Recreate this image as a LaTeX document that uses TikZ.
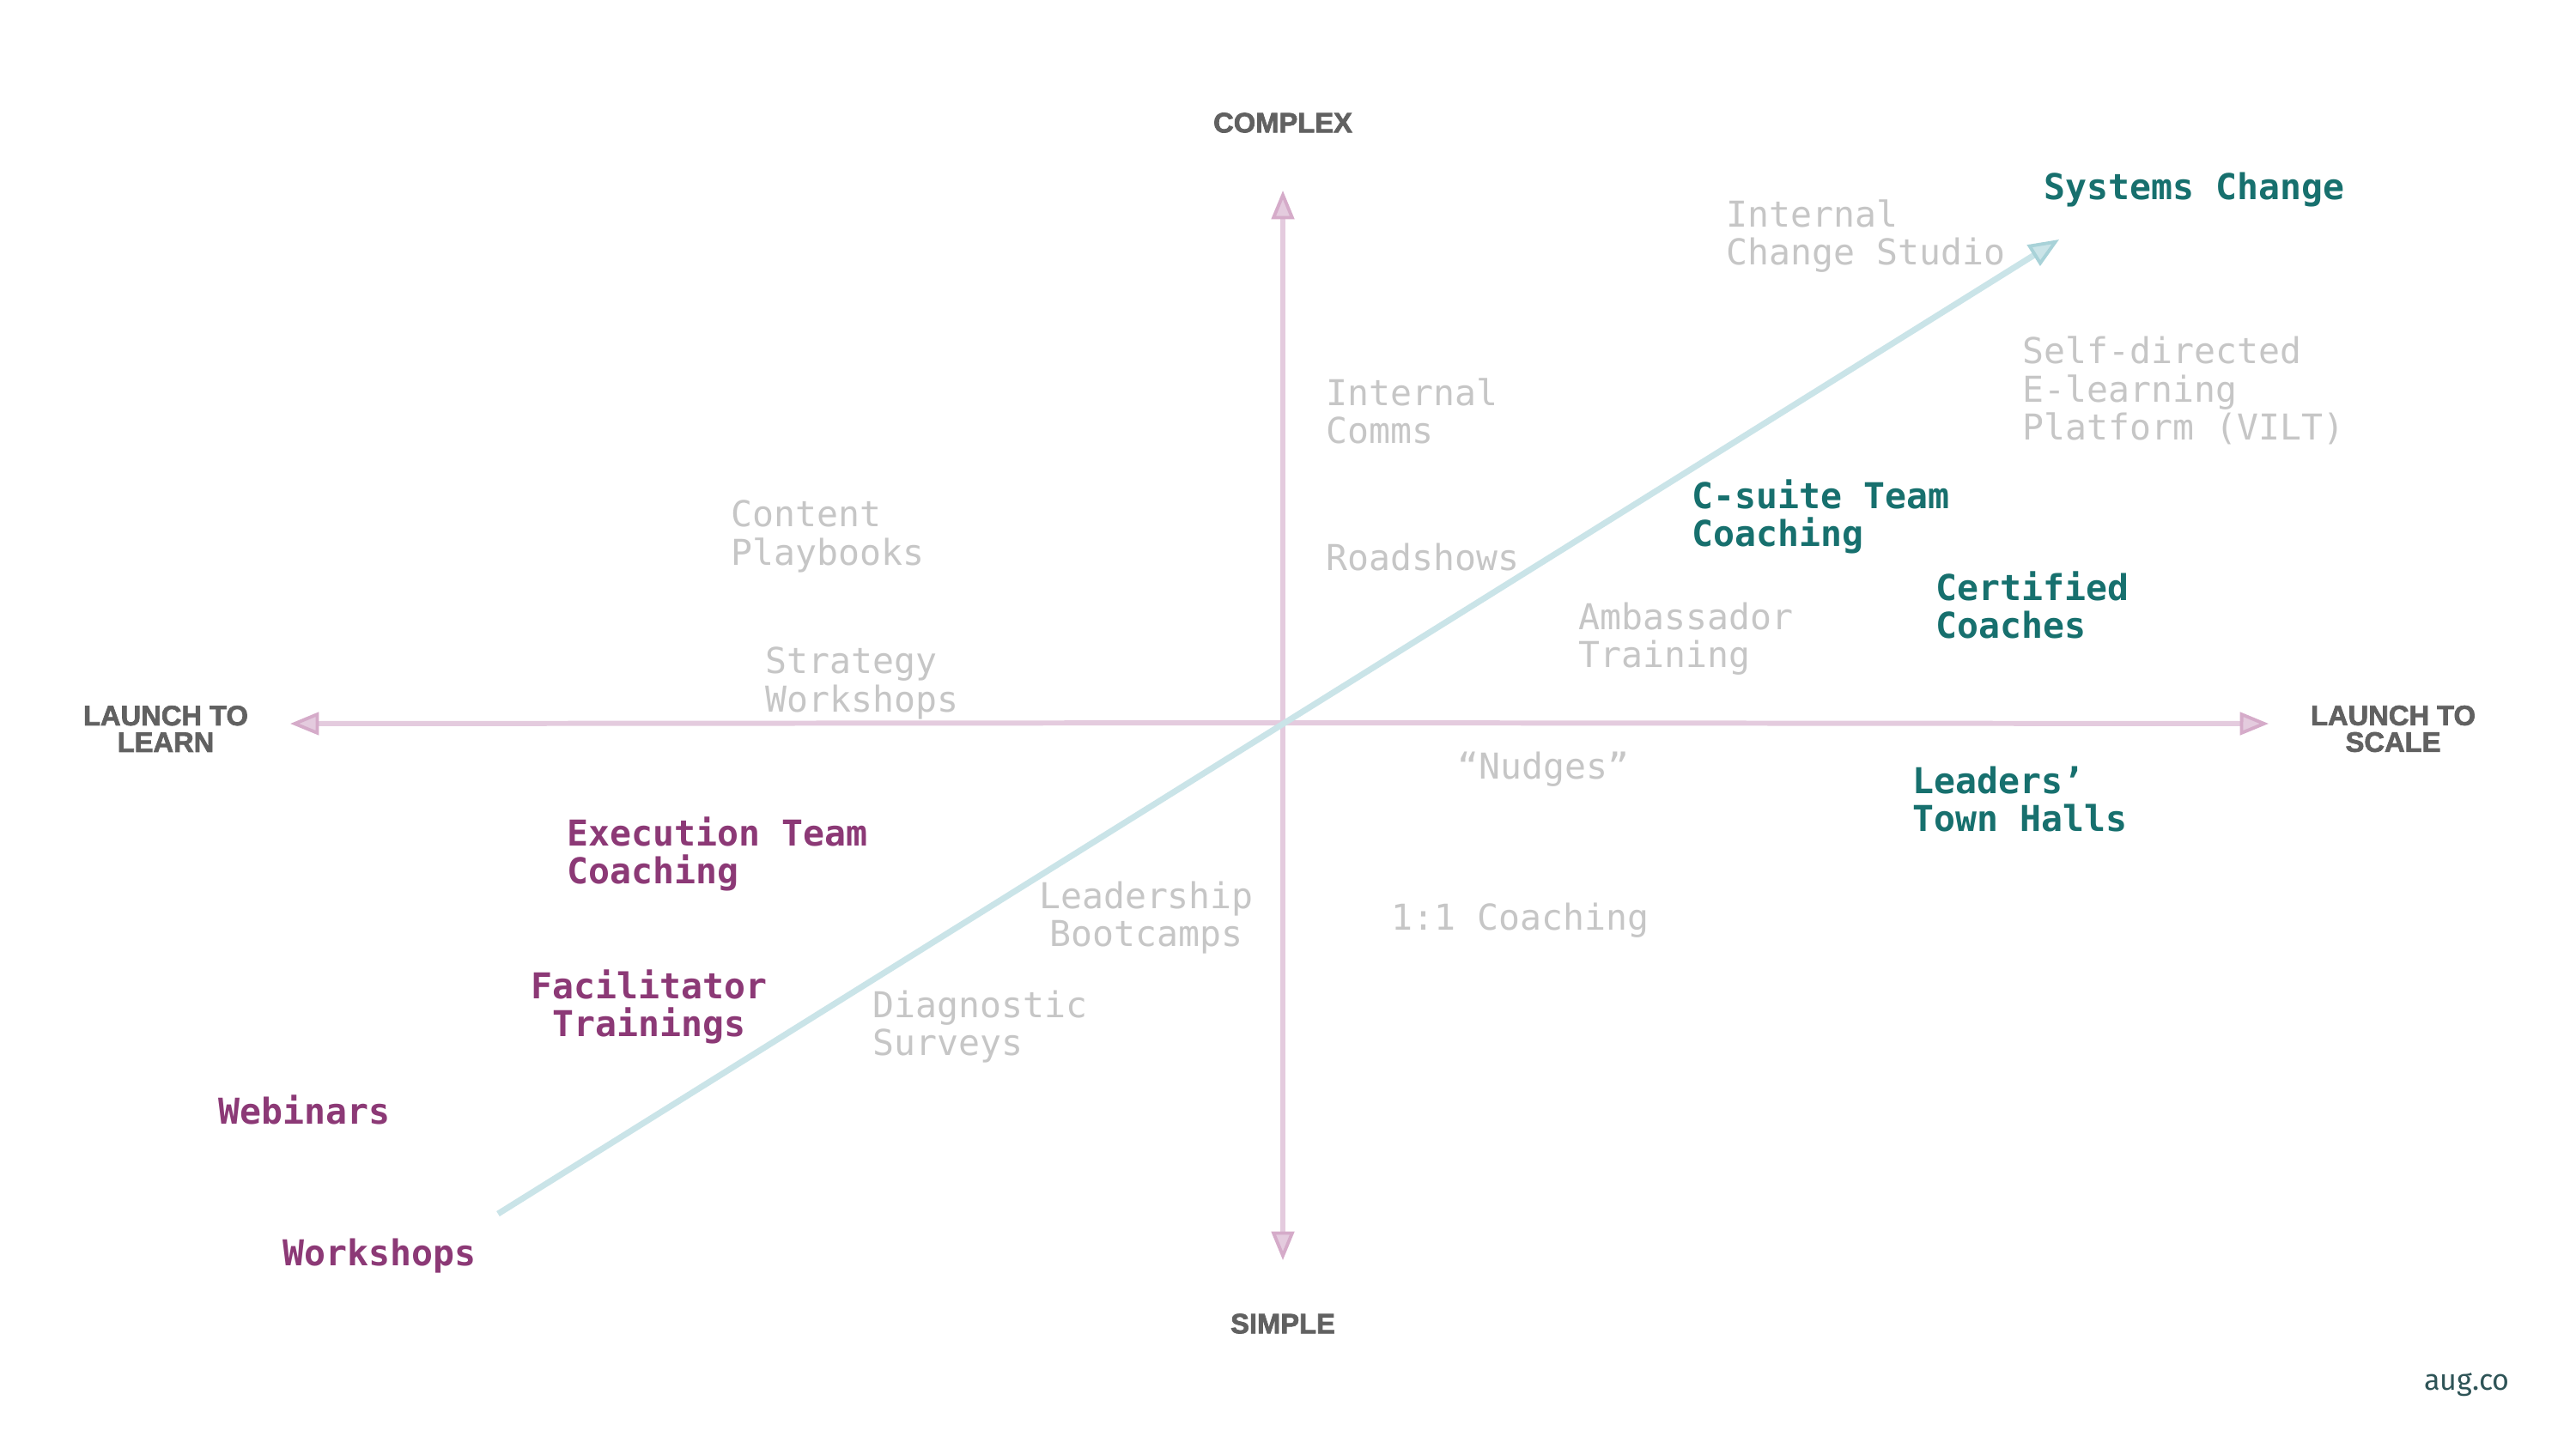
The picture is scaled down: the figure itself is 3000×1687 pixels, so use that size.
\documentclass[tikz,border=0pt]{standalone}
\usepackage{fontspec}
\setmainfont{Liberation Sans}
\newfontfamily\monof{DejaVu Sans Mono}
\newfontfamily\headf[FakeBold=2.2]{Liberation Sans Bold}
\newfontfamily\brandf{Fira Sans}
\usetikzlibrary{arrows.meta}
\definecolor{axisc}{HTML}{E4CBDE}
\definecolor{axisd}{HTML}{D5ABC9}
\definecolor{diagc}{HTML}{CAE4E8}
\definecolor{diagd}{HTML}{A8D2D8}
\definecolor{grayt}{HTML}{C6C6C6}
\definecolor{tealt}{HTML}{17706E}
\definecolor{purpt}{HTML}{8C3976}
\definecolor{headt}{HTML}{616161}
\definecolor{brandt}{HTML}{2E5457}
\tikzset{
  mono/.style={inner sep=0pt, font=\monof\fontsize{11.8}{12.6}\selectfont},
  faint/.style={mono, text=grayt, align=left, anchor=west},
  tealbox/.style={mono, text=tealt, font=\monof\bfseries\fontsize{11.8}{12.6}\selectfont, align=left, anchor=west},
  purpbox/.style={mono, text=purpt, font=\monof\bfseries\fontsize{11.8}{12.6}\selectfont, align=left, anchor=west},
  headbox/.style={inner sep=0pt, text=headt, font=\headf\fontsize{9.3}{8.8}\selectfont, align=center},
  axisline/.style={draw=axisc, line width=1.7pt},
  diagline/.style={draw=diagc, line width=2pt},
  axtip/.style={-{Triangle[length=9.5pt,width=7.5pt,line width=1.1pt,color=axisd,fill=axisc]}},
  dgtip/.style={-{Triangle[length=10pt,width=8pt,line width=1.1pt,color=diagd,fill=diagc]}}
}
\begin{document}
\begin{tikzpicture}[x=0.01cm,y=-0.01cm]
\useasboundingbox[fill=white] (0,0) rectangle (3000,1687);
% axes
\coordinate (ctr) at (1494,842);
\coordinate (top) at (1494,222);
\coordinate (bot) at (1494,1468);
\coordinate (lft) at (338,843);
\coordinate (rgt) at (2642,843);
\coordinate (dstart) at (580,1414);
\coordinate (dend) at (2398,279);
\draw[axisline, axtip] (ctr) -- (top);
\draw[axisline, axtip] (ctr) -- (bot);
\draw[axisline, axtip] (ctr) -- (lft);
\draw[axisline, axtip] (ctr) -- (rgt);
\draw[diagline, dgtip] (dstart) -- (dend);
% axis labels
\node[headbox] (complex) at (1494,143) {COMPLEX};
\node[headbox] (simple) at (1494,1542) {SIMPLE};
\node[headbox] (learn) at (193,849) {LAUNCH TO\\LEARN};
\node[headbox] (scale) at (2787,849) {LAUNCH TO\\SCALE};
% faint items
\node[faint] (ics) at (2010,275) {Internal\\Change Studio};
\node[faint] (sdl) at (2355,455) {Self-directed\\E-learning\\Platform (VILT)};
\node[faint] (icom) at (1544,479) {Internal\\Comms};
\node[faint] (cpb) at (851,625) {Content\\Playbooks};
\node[faint] (road) at (1544,649) {Roadshows};
\node[faint] (amb) at (1838,744) {Ambassador\\Training};
\node[faint] (strat) at (891,796) {Strategy\\Workshops};
\node[faint] (nudge) at (1697,896) {“Nudges”};
\node[faint, align=center, anchor=center] (lbc) at (1335,1069) {Leadership\\Bootcamps};
\node[faint] (coach) at (1620,1072) {1:1 Coaching};
\node[faint] (diag) at (1016,1196) {Diagnostic\\Surveys};
% teal items
\node[tealbox] (sys) at (2380,221) {Systems Change};
\node[tealbox] (csuite) at (1970,602) {C-suite Team\\Coaching};
\node[tealbox] (cert) at (2254,705) {Certified\\Coaches};
\node[tealbox] (lead) at (2227,931) {Leaders’\\Town Halls};
% purple items
\node[purpbox] (exec) at (660,995) {Execution Team\\Coaching};
\node[purpbox, align=center, anchor=center] (fac) at (756,1173) {Facilitator\\Trainings};
\node[purpbox] (web) at (254,1293) {Webinars};
\node[purpbox] (work) at (329,1463) {Workshops};
% brand
\node[inner sep=0pt, text=brandt, font=\brandf\fontsize{9.7}{11}\selectfont] (brand) at (2873,1613) {aug.co};
\end{tikzpicture}
\end{document}
